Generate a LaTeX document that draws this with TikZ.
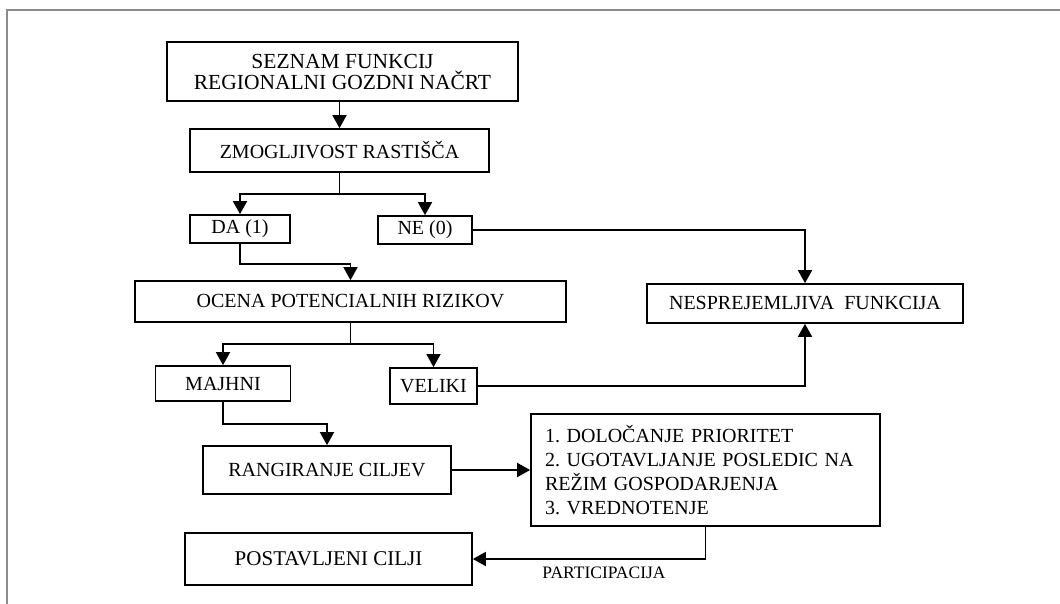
\documentclass[tikz,border=0pt]{standalone}
\usepackage{fontspec}
\setmainfont{Liberation Serif}
\usetikzlibrary{arrows.meta}
\frenchspacing
\begin{document}
\begin{tikzpicture}[x=1pt,y=-1pt,
  box/.style={draw=black, line width=1.7pt, inner sep=0pt, align=center, font=\fontsize{20}{22}\selectfont},
  conn/.style={draw=black, line width=1.7pt},
  arr/.style={conn, -{Triangle[length=13pt,width=14pt]}},
  frame/.style={draw=black!45, line width=1.3pt}
]
\useasboundingbox (0,0) rectangle (1060,604);
\draw[frame] (7,604) -- (7,10) -- (1060,10);

\node[box, minimum width=351pt, minimum height=59pt, font=\fontsize{21.5}{21}\selectfont] (seznam) at (342.5,71.5) {SEZNAM FUNKCIJ\\REGIONALNI GOZDNI NAČRT};
\node[box, minimum width=299pt, minimum height=43pt] (zmog) at (339.5,150.5) {ZMOGLJIVOST RASTIŠČA};
\node[box, minimum width=100pt, minimum height=28pt] (da) at (240,229) {DA (1)};
\node[box, minimum width=94pt, minimum height=28pt] (ne) at (425,230) {NE (0)};
\node[box, minimum width=431pt, minimum height=41pt] (ocena) at (350.5,301.5) {OCENA POTENCIALNIH RIZIKOV};
\node[box, minimum width=316pt, minimum height=39pt] (nespr) at (805,303.5) {NESPREJEMLJIVA\ \ FUNKCIJA};
\node[box, minimum width=135pt, minimum height=35pt] (majhni) at (223,383.5) {MAJHNI};
\node[box, minimum width=87pt, minimum height=36pt] (veliki) at (433.5,386) {VELIKI};
\node[box, minimum width=248pt, minimum height=48pt] (rang) at (327,470) {RANGIRANJE CILJEV};
\node[box, minimum height=112pt, text width=321pt, inner xsep=14pt, align=left, font=\fontsize{20}{24}\selectfont] (list) at (705.5,470) {1. DOLOČANJE PRIORITET\\2. UGOTAVLJANJE POSLEDIC NA\\REŽIM GOSPODARJENJA\\3. VREDNOTENJE};
\node[box, minimum width=287pt, minimum height=52pt, font=\fontsize{21}{22}\selectfont] (postav) at (328.5,559) {POSTAVLJENI CILJI};
\node[font=\fontsize{17.5}{18}\selectfont, inner sep=0pt] (part) at (604,573) {PARTICIPACIJA};

% connectors
\draw[arr] (seznam.south -| zmog.north) -- (zmog.north);
\draw[conn] (zmog.south) -- ++(0,21) coordinate (b1);
\draw[arr] (b1) -| (da.north);
\draw[arr] (b1) -| (ne.north);
\draw[arr] (da.south) -- ++(0,20) -| (ocena.north);
\draw[arr] (ne.east) -| (nespr.north);
\draw[conn] (ocena.south) -- ++(0,21) coordinate (b2);
\draw[arr] (b2) -| (majhni.north);
\draw[arr] (b2) -| (veliki.north);
\draw[arr] (veliki.east) -| (nespr.south);
\draw[arr] (majhni.south) -- ++(0,22) -| (rang.north);
\draw[arr] (rang.east) -- (list.west);
\draw[arr] (list.south) |- (postav.east);
\end{tikzpicture}
\end{document}
